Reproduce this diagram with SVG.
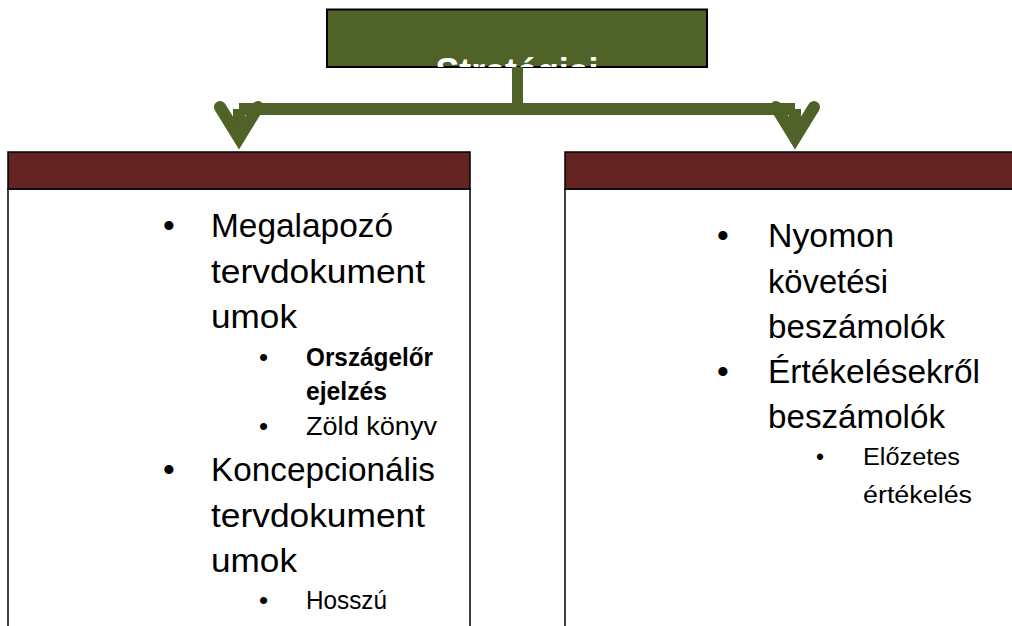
<svg xmlns="http://www.w3.org/2000/svg" width="1012" height="626" viewBox="0 0 1012 626">
<style>
.green{fill:#4f6228;stroke:#000;stroke-width:2}
.hdr{fill:#632423;stroke:#000;stroke-width:1.5}
.body{fill:#fff;stroke:#000;stroke-width:1.5}
.con{fill:none;stroke:#4f6228}
.t{font-family:"Liberation Sans",Arial,sans-serif;fill:#000}
.l1{font-size:33.5px}
.l2{font-size:26px}
.l3{font-size:23px}
.b{font-weight:bold}
.title{font-family:"Liberation Sans",Arial,sans-serif;font-size:36px;font-weight:bold;fill:#fff}
</style>
<defs>
<clipPath id="clipTop"><rect x="327" y="9.5" width="380" height="57.5"/></clipPath>
</defs>
<rect width="1012" height="626" fill="#fff"/>
<g id="left">
<rect class="body" x="8" y="189" width="462" height="460"/>
<rect class="hdr" x="8" y="152" width="462" height="37"/>
<text class="t l1" x="163" y="237">•</text>
<text class="t l1" x="211" y="237" textLength="182" lengthAdjust="spacingAndGlyphs">Megalapozó</text>
<text class="t l1" x="211" y="283" textLength="214" lengthAdjust="spacingAndGlyphs">tervdokument</text>
<text class="t l1" x="211" y="328" textLength="86" lengthAdjust="spacingAndGlyphs">umok</text>
<text class="t l2" x="259" y="366">•</text>
<text class="t l2 b" x="306" y="366" textLength="127" lengthAdjust="spacingAndGlyphs">Országelőr</text>
<text class="t l2 b" x="306" y="400" textLength="81" lengthAdjust="spacingAndGlyphs">ejelzés</text>
<text class="t l2" x="259" y="435">•</text>
<text class="t l2" x="306" y="435" textLength="131" lengthAdjust="spacingAndGlyphs">Zöld könyv</text>
<text class="t l1" x="163" y="481">•</text>
<text class="t l1" x="211" y="481" textLength="224" lengthAdjust="spacingAndGlyphs">Koncepcionális</text>
<text class="t l1" x="211" y="527" textLength="214" lengthAdjust="spacingAndGlyphs">tervdokument</text>
<text class="t l1" x="211" y="572" textLength="86" lengthAdjust="spacingAndGlyphs">umok</text>
<text class="t l2" x="259" y="609">•</text>
<text class="t l2" x="306" y="609" textLength="81" lengthAdjust="spacingAndGlyphs">Hosszú</text>
</g>
<g id="right">
<rect class="body" x="565" y="189" width="460" height="460"/>
<rect class="hdr" x="565" y="152" width="460" height="37"/>
<text class="t l1" x="717" y="247">•</text>
<text class="t l1" x="768" y="247" textLength="126" lengthAdjust="spacingAndGlyphs">Nyomon</text>
<text class="t l1" x="768" y="293" textLength="120" lengthAdjust="spacingAndGlyphs">követési</text>
<text class="t l1" x="768" y="338" textLength="177" lengthAdjust="spacingAndGlyphs">beszámolók</text>
<text class="t l1" x="717" y="383">•</text>
<text class="t l1" x="768" y="383" textLength="212" lengthAdjust="spacingAndGlyphs">Értékelésekről</text>
<text class="t l1" x="768" y="428" textLength="177" lengthAdjust="spacingAndGlyphs">beszámolók</text>
<text class="t l3" x="816" y="465">•</text>
<text class="t l3" x="863" y="465" textLength="97" lengthAdjust="spacingAndGlyphs">Előzetes</text>
<text class="t l3" x="863" y="503" textLength="109" lengthAdjust="spacingAndGlyphs">értékelés</text>
</g>
<g id="top">
<rect class="green" x="327" y="9.5" width="380" height="57.5"/>
<text class="title" x="517" y="84" text-anchor="middle" textLength="163" lengthAdjust="spacingAndGlyphs" clip-path="url(#clipTop)">Stratégiai</text>
</g>
<g id="connectors">
<path class="con" d="M517.5,67 V109" stroke-width="11"/>
<path class="con" d="M239,109 H795" stroke-width="12"/>
<path class="con" d="M239,109 V135 M795,109 V135" stroke-width="12"/>
<path class="con" d="M220,107 L239,138 L258,107" stroke-width="12" stroke-linecap="round" stroke-linejoin="miter" stroke-miterlimit="10"/>
<path class="con" d="M776,107 L795,138 L814,107" stroke-width="12" stroke-linecap="round" stroke-linejoin="miter" stroke-miterlimit="10"/>
</g>
</svg>
